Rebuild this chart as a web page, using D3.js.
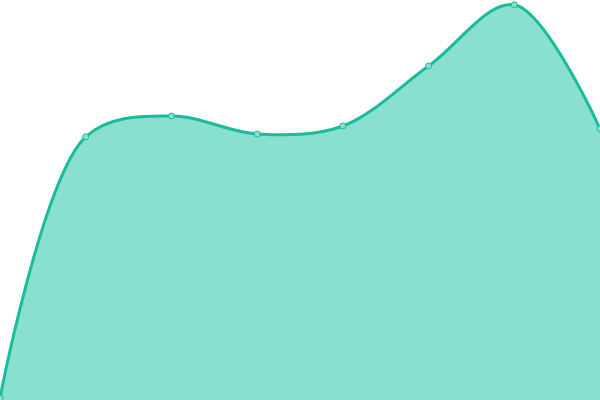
<!DOCTYPE html>
<html lang="en">
<head>
    <meta charset="UTF-8">
    <title>Area</title>
    <style>
        html, body { margin: 0; padding: 0; background: #fff; }
        svg { display: block; }
    </style>
    <script src="https://d3js.org/d3.v7.min.js"></script>
</head>
<body>
    <div id="chart"></div>
    <script>
        // data
        const labels = ["p1", "p2", "p3", "p4", "p5", "p6", "p7", "p8"];
        const values = [0.5, 65.8, 71, 66.5, 68.5, 83.5, 98.8, 67.8];

        const width = 600, height = 400;

        const x = d3.scalePoint().domain(labels).range([0, width]);
        const y = d3.scaleLinear().domain([0, 100]).range([height, 0]);

        const svg = d3.select("#chart").append("svg")
            .attr("width", width)
            .attr("height", height);

        const data = labels.map((l, i) => ({ label: l, value: values[i] }));
        const curve = d3.curveCatmullRom.alpha(0.5);

        svg.append("path")
            .datum(data)
            .attr("d", d3.area()
                .x(d => x(d.label))
                .y0(height)
                .y1(d => y(d.value))
                .curve(curve))
            .style("fill", "#89e0cf");

        svg.append("path")
            .datum(data)
            .attr("d", d3.line()
                .x(d => x(d.label))
                .y(d => y(d.value))
                .curve(curve))
            .style("fill", "none")
            .style("stroke", "#1abc9c")
            .style("stroke-width", "3px");

        svg.selectAll(".dot")
            .data(data)
            .enter().append("circle")
            .attr("class", "dot")
            .attr("cx", d => x(d.label))
            .attr("cy", d => y(d.value))
            .attr("r", 3)
            .style("fill", "#89e0cf")
            .style("stroke", "#1abc9c")
            .style("stroke-width", "1px");
    </script>
</body>
</html>
